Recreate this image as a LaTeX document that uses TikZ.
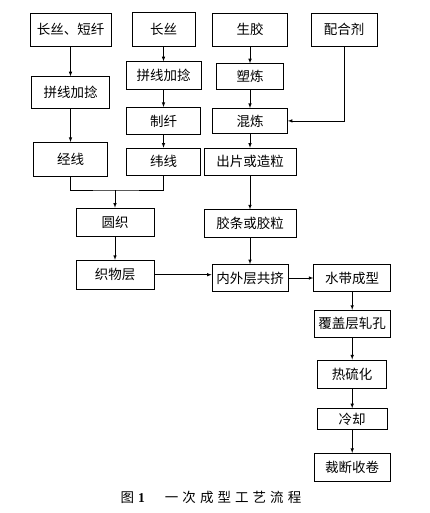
\documentclass[tikz,border=0pt]{standalone}
\usepackage{fontspec}
\setmainfont{Liberation Serif}
\newfontfamily\cjk{Noto Sans CJK SC}
\newfontfamily\cjkcap[LetterSpace=30]{Noto Sans CJK SC}
\usepackage{tikz}
\usetikzlibrary{arrows,positioning}
\tikzstyle{caja}=[rectangle,draw=black,line width=0.7,inner sep=0,minimum width=75,minimum height=27,fill=white,font=\cjk\fontsize{13.5}{15}\selectfont]
\tikzstyle{alta}=[caja,minimum height=33]
\tikzstyle{flujo}=[line width=0.6]

\begin{document}
\begin{tikzpicture}[x=1pt,y=-1pt]
	\useasboundingbox (0,0) rectangle (430,513);
		\begin{scope}[>=latex, align=center]
			\node[alta,minimum width=81]	(cfd)	at (70.5,29.5)	{长丝、短纤};
			\node[caja,minimum width=78,minimum height=32]
					(pj1)	[below=30pt of cfd]	{拼线加捻};
			\node[caja,minimum width=74,minimum height=34]
					(jx)	[below=33pt of pj1]	{经线};
			\node[alta,minimum width=63,minimum height=34]
					(cs)	at (163.5,29)	{长丝};
			\node[caja,minimum height=28]	(pj2)	[below=15pt of cs]	{拼线加捻};
			\node[caja,minimum width=74]	(zx)	[below=17pt of pj2]	{制纤};
			\node[caja,minimum width=74]	(wx)	[below=13pt of zx]	{纬线};
			\node[alta]	(sj)	at (250,29.5)	{生胶};
			\node[caja,minimum width=67,minimum height=26]
					(sl)	[below=17pt of sj]	{塑炼};
			\node[caja,minimum height=25]	(hl)	[below=18pt of sl]	{混炼};
			\node[caja,minimum width=92]	(cp)	[below=14pt of hl]	{出片或造粒};
			\node[caja,minimum width=92,minimum height=28]
					(jt)	[below=34pt of cp]	{胶条或胶粒};
			\node[caja,minimum width=76]	(nw)	[below=26pt of jt]	{内外层共挤};
			\node[alta,minimum width=66]	(phj)	at (344,29.5)	{配合剂};
			\node[caja,minimum width=78,minimum height=28]
					(yz)	at (115,222)	{圆织};
			\node[caja,minimum width=78,minimum height=29]
					(zw)	[below=23.5pt of yz]	{织物层};
			\node[caja,minimum width=77]	(sd)	[right=25pt of nw]	{水带成型};
			\node[caja,minimum width=76]	(fg)	[below=18pt of sd]	{覆盖层轧孔};
			\node[caja,minimum width=69,minimum height=28]
					(rlh)	[below=22pt of fg]	{热硫化};
			\node[caja,minimum width=70,minimum height=21]
					(lq)	[below=20pt of rlh]	{冷却};
			\node[caja,minimum width=76,minimum height=28]
					(cj)	[below=23pt of lq]	{裁断收卷};
			\coordinate	(aux1)	at (115,190);
			\draw[flujo,->]	(cfd) -- (pj1);
			\draw[flujo,->]	(pj1) -- (jx);
			\draw[flujo,->]	(cs) -- (pj2);
			\draw[flujo,->]	(pj2) -- (zx);
			\draw[flujo,->]	(zx) -- (wx);
			\draw[flujo,->]	(sj) -- (sl);
			\draw[flujo,->]	(sl) -- (hl);
			\draw[flujo,->]	(hl) -- (cp);
			\draw[flujo,->]	(cp) -- (jt);
			\draw[flujo,->]	(jt) -- (nw);
			\draw[flujo,->]	(phj) |- (hl);
			\draw[flujo]	(jx) |- (aux1) -| (wx);
			\draw[flujo,->]	(aux1) -- (yz);
			\draw[flujo,->]	(yz) -- (zw);
			\draw[flujo,->]	(zw) -- (zw -| nw.west);
			\draw[flujo,->]	(nw) -- (sd);
			\draw[flujo,->]	(sd) -- (fg);
			\draw[flujo,->]	(fg) -- (rlh);
			\draw[flujo,->]	(rlh) -- (lq);
			\draw[flujo,->]	(lq) -- (cj);
		\end{scope}
		\node[font=\fontsize{13.5}{15}\selectfont]	(titulo)	at (211,497)
			{{\cjk 图}\hspace{4pt}\textbf{1}\hspace{20pt}{\cjkcap 一次成型工艺流程}};
	\end{tikzpicture}
\end{document}
